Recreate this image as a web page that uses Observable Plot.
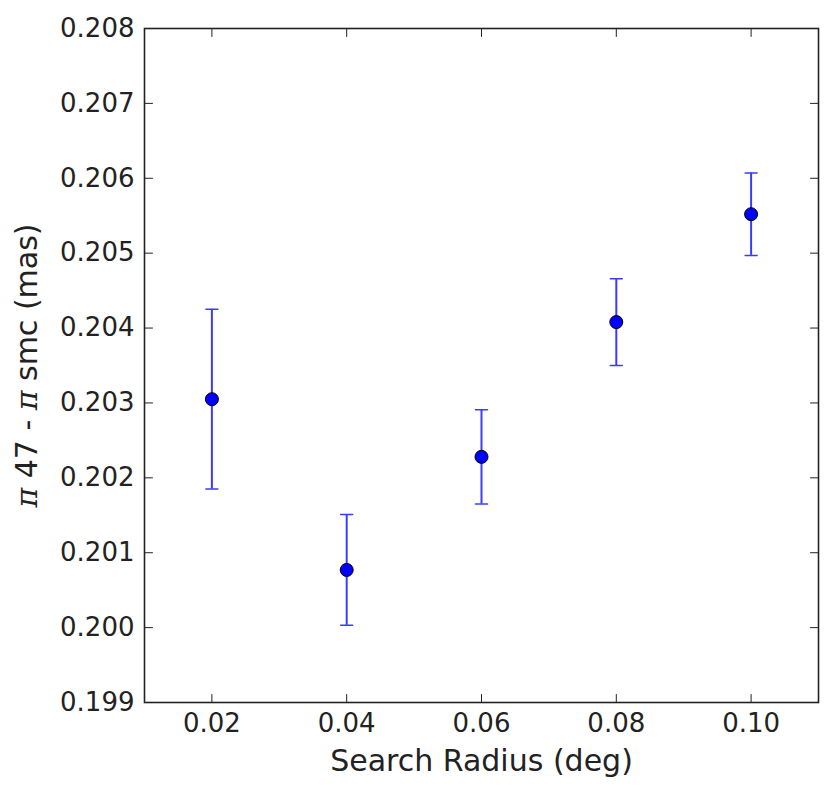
<!DOCTYPE html>
<html>
<head>
<meta charset="utf-8">
<script src="https://cdn.jsdelivr.net/npm/d3@7"></script>
<script src="https://cdn.jsdelivr.net/npm/@observablehq/plot@0.6"></script>
<style>
  html, body { margin: 0; padding: 0; background: #fff; }
  svg { display: block; }
</style>
</head>
<body>
<div id="chart"></div>
<script>
// Data
const radius = [0.02, 0.04, 0.06, 0.08, 0.10];
const offset = [0.20305, 0.20077, 0.20228, 0.20408, 0.20552];
const errors = [0.00120, 0.00074, 0.00063, 0.00058, 0.00055];
const xTicks = [0.02, 0.04, 0.06, 0.08, 0.10];
const yTicks = [0.199, 0.200, 0.201, 0.202, 0.203, 0.204, 0.205, 0.206, 0.207, 0.208];
const xDomain = [0.01, 0.11];
const yDomain = [0.199, 0.208];
const xLabel = "Search Radius (deg)";
const yLabelParts = [["π", true], [" 47 - ", false], ["π", true], [" smc (mas)", false]];

const rows = radius.map((r, i) => ({r, v: offset[i], e: errors[i]}));

const tickShape = {draw(ctx, l) { ctx.moveTo(0, 0); ctx.lineTo(0, -l); }};
const capShape = {draw(ctx, l) { ctx.moveTo(-l, 0); ctx.lineTo(l, 0); }};
const ink = "#222";
const barColor = "#3b3bff";

const chart = Plot.plot({
  width: 831,
  height: 793,
  marginLeft: 144,
  marginRight: 13,
  marginTop: 28,
  marginBottom: 91,
  style: {fontFamily: "DejaVu Sans", background: "#fff", color: ink},
  x: {domain: xDomain, axis: null},
  y: {domain: yDomain, axis: null},
  marks: [
    Plot.axisX(xTicks, {anchor: "bottom", tickSize: 0, tickPadding: 11, fontSize: 26, tickFormat: d3.format(".2f"), label: null, fill: ink}),
    Plot.axisY(yTicks, {anchor: "left", tickSize: 0, tickPadding: 10, fontSize: 26, tickFormat: d3.format(".3f"), label: null, fill: ink}),
    // inward ticks on all four sides
    Plot.vector(xTicks, {x: d => d, y: yDomain[0], length: 8, rotate: 0, anchor: "start", shape: tickShape, stroke: ink, strokeWidth: 1}),
    Plot.vector(xTicks, {x: d => d, y: yDomain[1], length: 8, rotate: 180, anchor: "start", shape: tickShape, stroke: ink, strokeWidth: 1}),
    Plot.vector(yTicks, {x: xDomain[0], y: d => d, length: 8, rotate: 90, anchor: "start", shape: tickShape, stroke: ink, strokeWidth: 1}),
    Plot.vector(yTicks, {x: xDomain[1], y: d => d, length: 8, rotate: -90, anchor: "start", shape: tickShape, stroke: ink, strokeWidth: 1}),
    // error bars
    Plot.ruleX(rows, {x: "r", y1: d => d.v - d.e, y2: d => d.v + d.e, stroke: barColor, strokeWidth: 2}),
    Plot.vector(rows, {x: "r", y: d => d.v - d.e, length: 6, anchor: "start", shape: capShape, stroke: barColor, strokeWidth: 1.5}),
    Plot.vector(rows, {x: "r", y: d => d.v + d.e, length: 6, anchor: "start", shape: capShape, stroke: barColor, strokeWidth: 1.5}),
    Plot.dot(rows, {x: "r", y: "v", r: 6.5, fill: "#0000ff", stroke: "#000", strokeWidth: 1}),
    Plot.frame({stroke: ink, strokeWidth: 1.6}),
    // axis titles
    Plot.text([xLabel], {frameAnchor: "bottom", text: d => d, dy: 68, fontSize: 30, fill: ink}),
    Plot.text([yLabelParts.map(p => p[0]).join("")], {frameAnchor: "left", textAnchor: "middle", text: d => d, dx: -117, rotate: -90, fontSize: 30, fill: ink, className: "ylabel"})
  ]
});

document.getElementById("chart").appendChild(chart);

// style the π symbols of the y title as italic serif
d3.select(chart).selectAll(".ylabel text").each(function() {
  const t = d3.select(this);
  t.text(null);
  yLabelParts.forEach(([s, math]) => {
    const span = t.append("tspan").text(s);
    if (math) span.attr("font-family", "DejaVu Serif").attr("font-style", "italic");
  });
});
</script>
</body>
</html>
